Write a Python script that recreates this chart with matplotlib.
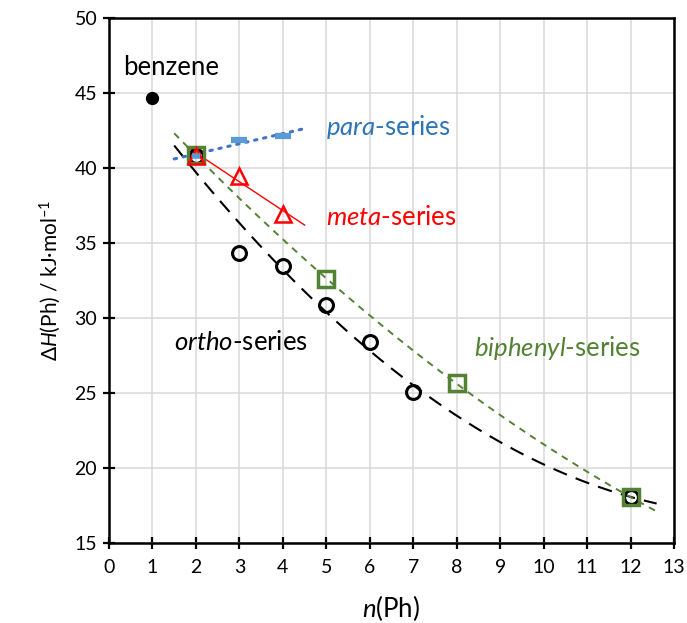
import numpy as np
import matplotlib
matplotlib.use("Agg")
import matplotlib.pyplot as plt

plt.rcParams['font.family'] = ['Lato', 'DejaVu Sans']
plt.rcParams['mathtext.fontset'] = 'custom'
plt.rcParams['mathtext.rm'] = 'Lato'
plt.rcParams['mathtext.it'] = 'Lato:italic'
plt.rcParams['mathtext.bf'] = 'Lato:bold'

# Data
benzene_x = [1]
benzene_y = [44.7]
ortho_x = [2, 3, 4, 5, 6, 7, 12]
ortho_y = [40.8, 34.35, 33.5, 30.85, 28.4, 25.1, 18.05]
biphenyl_x = [2, 5, 8, 12]
biphenyl_y = [40.85, 32.6, 25.65, 18.05]
meta_x = [2, 3, 4]
meta_y = [40.8, 39.5, 36.95]
para_x = [2, 3, 4]
para_y = [40.8, 41.9, 42.15]

xticks = list(range(0, 14))
yticks = [15, 20, 25, 30, 35, 40, 45, 50]

fig = plt.figure(figsize=(6.87, 6.23), dpi=100)
ax = fig.add_axes([0.1587, 0.1284, 0.8224, 0.8427])
ax.set_xlim(0, 13)
ax.set_ylim(15, 50)
ax.set_xticks(xticks)
ax.set_yticks(yticks)
ax.grid(True, color='#D9D9D9', lw=1.1)
ax.set_axisbelow(True)
for s in ax.spines.values():
    s.set_linewidth(1.8)
ax.tick_params(direction='inout', length=9, width=1.6, labelsize=14, pad=4)
ax.tick_params(axis='x', pad=7)

# trend lines
xx = np.linspace(1.5, 12.6, 200)
po = np.polyfit(ortho_x, ortho_y, 2)
ax.plot(xx, np.polyval(po, xx), color='black', lw=1.5, dashes=(7, 4.5), zorder=2)
pb = np.polyfit(biphenyl_x, biphenyl_y, 2)
ax.plot(xx, np.polyval(pb, xx), color='#548235', lw=1.4, dashes=(3.5, 3), zorder=2)
xm = np.linspace(1.8, 4.5, 50)
pm = np.polyfit(meta_x, meta_y, 1)
ax.plot(xm, np.polyval(pm, xm), color='red', lw=1.0, zorder=2)
xp = np.linspace(1.5, 4.5, 50)
pp = np.polyfit(para_x, para_y, 1)
ax.plot(xp, np.polyval(pp, xp), color='#4472C4', lw=2.2, ls=(0, (0.8, 2.2)),
        dash_capstyle='round', zorder=2)

# markers
ax.plot(ortho_x, ortho_y, 'o', ms=10, mfc='none', mec='black', mew=2.2, zorder=3)
ax.plot(biphenyl_x, biphenyl_y, 's', ms=11, mfc='none', mec='#548235', mew=2.5, zorder=3)
ax.plot(meta_x, meta_y, '^', ms=11, mfc='none', mec='red', mew=1.8, zorder=4)
ax.plot(para_x[1:], para_y[1:], '_', ms=12, mec='#5B9BD5', mew=4.5, zorder=4)
ax.plot(para_x[:1], para_y[:1], '_', ms=6, mec='#5B9BD5', mew=4, zorder=4)
ax.plot(benzene_x, benzene_y, 'o', ms=8.5, color='black', zorder=4)

# labels
fs = 18.5
ax.text(1.44, 46.73, 'benzene', fontsize=fs, ha='center', va='center')
ax.text(5.0, 42.73, r'$\it{para}$-series', fontsize=fs, color='#2E75B6', ha='left', va='center')
ax.text(5.0, 36.67, r'$\it{meta}$-series', fontsize=fs, color='red', ha='left', va='center')
ax.text(1.5, 28.4, r'$\it{ortho}$-series', fontsize=fs, color='black', ha='left', va='center')
ax.text(8.39, 28.0, r'$\it{biphenyl}$-series', fontsize=fs, color='#548235', ha='left', va='center')

ax.set_xlabel(r'$\it{n}$(Ph)', fontsize=18.5, labelpad=12)
ax.set_ylabel(r'Δ$\it{H}$(Ph) / kJ·mol$^{\mathrm{–1}}$', fontsize=15, labelpad=8)

fig.savefig('out.png', dpi=100)
